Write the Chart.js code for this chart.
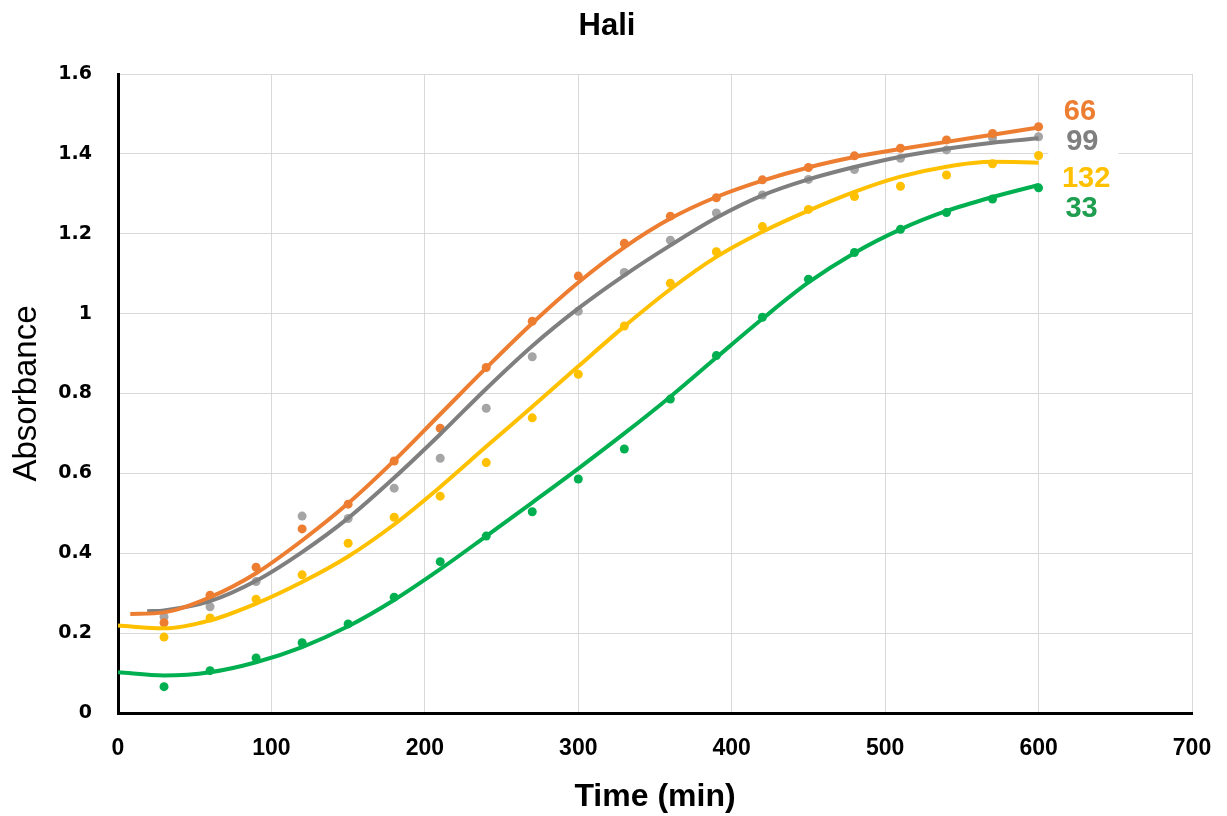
<!DOCTYPE html>
<html>
<head>
<meta charset="utf-8">
<script src="https://cdn.jsdelivr.net/npm/chart.js@4.4.1/dist/chart.umd.min.js"></script>
<style>
  body { margin: 0; background: #fff; }
  canvas { display: block; }
</style>
</head>
<body>
<canvas id="chart" width="1227" height="816"></canvas>
<script>
// measured points, every 30 min
const times = [30, 60, 90, 120, 150, 180, 210, 240, 270, 300, 330, 360, 390, 420, 450, 480, 510, 540, 570, 600];
const abs66 = [0.226, 0.295, 0.365, 0.461, 0.523, 0.631, 0.713, 0.865, 0.981, 1.094, 1.176, 1.244, 1.29, 1.335, 1.366, 1.395, 1.414, 1.435, 1.451, 1.468];
const abs99 = [0.241, 0.266, 0.329, 0.493, 0.487, 0.563, 0.638, 0.763, 0.892, 1.006, 1.103, 1.184, 1.252, 1.297, 1.336, 1.361, 1.389, 1.41, 1.44, 1.443];
const abs132 = [0.19, 0.238, 0.285, 0.346, 0.425, 0.49, 0.543, 0.627, 0.739, 0.848, 0.969, 1.076, 1.155, 1.218, 1.261, 1.293, 1.319, 1.347, 1.375, 1.396];
const abs33 = [0.066, 0.106, 0.138, 0.176, 0.223, 0.29, 0.379, 0.443, 0.504, 0.586, 0.661, 0.786, 0.895, 0.991, 1.086, 1.153, 1.211, 1.253, 1.287, 1.315];

// trend lines
const fitX66 = [8, 30, 60, 90, 120, 150, 180, 210, 240, 270, 300, 330, 360, 390, 420, 450, 480, 510, 540, 570, 600];
const fitY66 = [0.248, 0.252, 0.29, 0.35, 0.432, 0.525, 0.632, 0.748, 0.864, 0.976, 1.078, 1.166, 1.238, 1.292, 1.333, 1.366, 1.392, 1.412, 1.43, 1.448, 1.466];
const fitX99 = [19, 30, 60, 90, 120, 150, 180, 210, 240, 270, 300, 330, 360, 390, 420, 450, 480, 510, 540, 570, 600];
const fitY99 = [0.255, 0.257, 0.28, 0.331, 0.403, 0.488, 0.589, 0.698, 0.812, 0.919, 1.013, 1.096, 1.171, 1.24, 1.296, 1.336, 1.367, 1.393, 1.413, 1.428, 1.439];
const fitX = [0, 30, 60, 90, 120, 150, 180, 210, 240, 270, 300, 330, 360, 390, 420, 450, 480, 510, 540, 570, 600];
const fitY132 = [0.219, 0.212, 0.232, 0.274, 0.328, 0.392, 0.472, 0.566, 0.667, 0.767, 0.868, 0.968, 1.061, 1.142, 1.205, 1.258, 1.305, 1.343, 1.368, 1.38, 1.378];
const fitY33 = [0.102, 0.094, 0.102, 0.127, 0.165, 0.217, 0.283, 0.36, 0.443, 0.527, 0.612, 0.7, 0.792, 0.89, 0.987, 1.078, 1.152, 1.211, 1.257, 1.292, 1.322];

const xTicks = ['0', '100', '200', '300', '400', '500', '600', '700'];
const yTicks = ['0', '0.2', '0.4', '0.6', '0.8', '1', '1.2', '1.4', '1.6'];

// series name labels at the right, in data units
const seriesNames = ['66', '99', '132', '33'];
const nameX = [627, 628.5, 631, 628];
const nameY = [1.504, 1.43, 1.338, 1.262];

const lineColors = ['#ED7D31', '#7F7F7F', '#FFC000', '#00B050'];
const dotColors = ['#ED7D31', '#A5A5A5', '#FFC000', '#00B050'];
const nameColors = ['#ED7D31', '#7F7F7F', '#FFC000', '#1E9E4E'];

function pts(xs, ys) {
    return xs.map((x, i) => ({ x: x, y: ys[i] }));
}

const dotSets = [abs66, abs99, abs132, abs33].map((vals, i) => ({
    type: 'scatter',
    data: pts(times, vals),
    backgroundColor: dotColors[i],
    borderWidth: 0,
    pointRadius: 4.5,
    order: 2
}));

const fits = [[fitX66, fitY66], [fitX99, fitY99], [fitX, fitY132], [fitX, fitY33]];
const fitSets = fits.map((f, i) => ({
    type: 'line',
    data: pts(f[0], f[1]),
    borderColor: lineColors[i],
    borderWidth: 4,
    pointRadius: 0,
    cubicInterpolationMode: 'monotone',
    fill: false,
    order: 1
}));

const extras = {
    id: 'extras',
    afterDraw(chart) {
        const c = chart.ctx;
        const xs = chart.scales.x, ys = chart.scales.y;
        c.save();
        c.fillStyle = '#000';
        c.font = 'bold 31px "Liberation Sans", Arial, sans-serif';
        c.textAlign = 'center';
        c.textBaseline = 'middle';
        c.fillText('Hali', 607, 26);

        c.font = 'bold 29px "Liberation Sans", Arial, sans-serif';
        seriesNames.forEach((name, i) => {
            const px = xs.getPixelForValue(nameX[i]);
            const py = ys.getPixelForValue(nameY[i]);
            c.fillStyle = '#fff';
            c.fillRect(px - 34, py - 14, 70, 28);
        });
        seriesNames.forEach((name, i) => {
            const px = xs.getPixelForValue(nameX[i]);
            const py = ys.getPixelForValue(nameY[i]);
            c.fillStyle = nameColors[i];
            c.fillText(name, px, py);
        });
        c.restore();
    }
};

const ctx = document.getElementById('chart');
new Chart(ctx, {
    type: 'scatter',
    data: { datasets: fitSets.concat(dotSets) },
    options: {
        responsive: false,
        animation: false,
        layout: { padding: { top: 74, right: 35, left: 0, bottom: 0 } },
        plugins: {
            legend: { display: false },
            title: { display: false },
            tooltip: { enabled: false }
        },
        scales: {
            x: {
                type: 'linear',
                min: 0,
                max: 700,
                afterFit: s => { s.height = 103; s.paddingLeft = 0; s.paddingRight = 0; },
                ticks: {
                    stepSize: 100,
                    padding: 22,
                    color: '#000',
                    font: { family: '"Liberation Sans", Arial, sans-serif', size: 23, weight: 'bold' },
                    callback: (v, i) => xTicks[i]
                },
                grid: { color: '#D9D9D9', lineWidth: 1, drawTicks: false },
                border: { color: '#000', width: 3 },
                title: {
                    display: true,
                    text: 'Time (min)',
                    color: '#000',
                    font: { family: '"Liberation Sans", Arial, sans-serif', size: 32, weight: 'bold' },
                    padding: { top: 0, bottom: 0 }
                }
            },
            y: {
                min: 0,
                max: 1.6,
                afterFit: s => { s.width = 118; s.paddingTop = 0; s.paddingBottom = 0; },
                ticks: {
                    stepSize: 0.2,
                    padding: 26,
                    color: '#000',
                    font: { family: '"DejaVu Sans", Verdana, sans-serif', size: 19, weight: 'bold' },
                    callback: (v, i) => yTicks[i]
                },
                grid: { color: '#D9D9D9', lineWidth: 1, drawTicks: false },
                border: { color: '#000', width: 3 },
                title: {
                    display: true,
                    text: 'Absorbance',
                    color: '#000',
                    font: { family: '"Liberation Sans", Arial, sans-serif', size: 33 },
                    padding: { top: 7, bottom: 0 }
                }
            }
        }
    },
    plugins: [extras]
});
</script>
</body>
</html>
